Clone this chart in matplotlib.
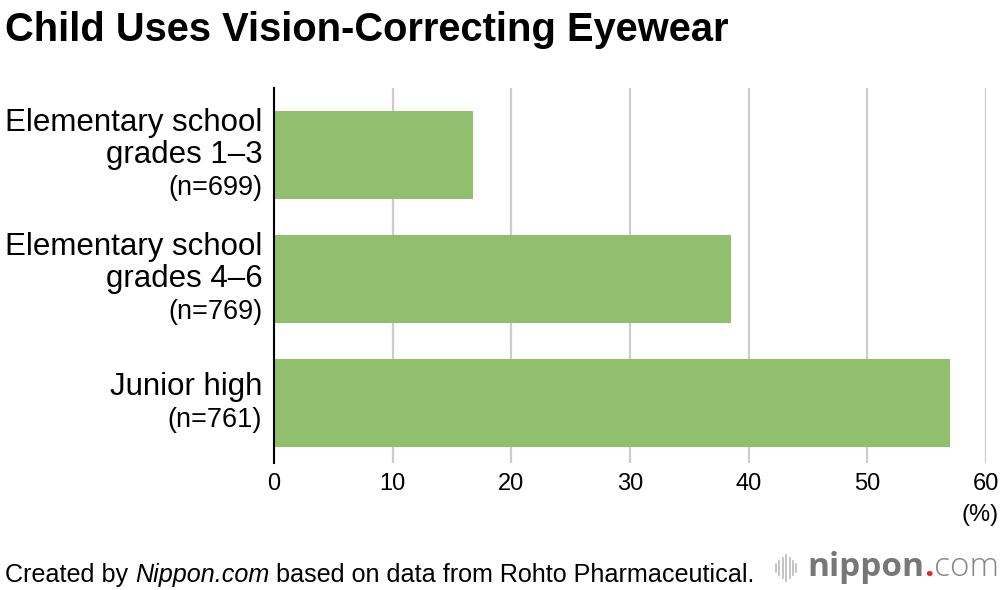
import matplotlib
matplotlib.use("Agg")
import matplotlib.pyplot as plt
from matplotlib.lines import Line2D

plt.rcParams['font.family'] = ['Liberation Sans', 'DejaVu Sans']

categories = ["Elementary school\ngrades 1–3", "Elementary school\ngrades 4–6", "Junior high"]
sample_sizes = ["(n=699)", "(n=769)", "(n=761)"]
values = [16.8, 38.5, 57.0]
x_ticks = [0, 10, 20, 30, 40, 50, 60]

title = "Child Uses Vision-Correcting Eyewear"
bar_color = "#90bf6e"

fig = plt.figure(figsize=(10, 5.9), dpi=100)
ax = fig.add_axes([0.274, 0.2153, 0.712, 0.6355])

ypos = list(range(len(categories)))
ax.barh(ypos, values, height=0.71, color=bar_color, zorder=3)

ax.set_xlim(0, 60)
ax.set_ylim(2.48, -0.54)
ax.set_xticks(x_ticks)
ax.set_xticklabels([str(t) for t in x_ticks], fontsize=17)
ax.tick_params(axis='x', length=0, pad=7)
ax.set_yticks([])
ax.grid(axis='x', color='#cccccc', linewidth=1.6, zorder=0)
for s in ['top', 'right', 'bottom']:
    ax.spines[s].set_visible(False)
ax.spines['left'].set_linewidth(1.5)
ax.spines['left'].set_color('black')
ax.spines['left'].set_zorder(4)

# Category labels
for y, cat, n in zip(ypos, categories, sample_sizes):
    lines = cat.split("\n")
    nl = len(lines) + 1
    line_h = 0.262  # in data units
    top = y - (nl - 1) * line_h / 2
    for i, ln in enumerate(lines):
        ax.text(-1.0, top + i * line_h, ln, ha='right', va='center', fontsize=22.5,
                transform=ax.transData, clip_on=False)
    ax.text(-1.0, top + len(lines) * line_h, n, ha='right', va='center', fontsize=19.5,
            transform=ax.transData, clip_on=False)

fig.text(0.999, 1 - 515 / 590, "(%)", ha='right', va='center', fontsize=17)

fig.text(0.005, 1 - 30 / 590, title, ha='left', va='center', fontsize=28.7, fontweight='bold')

# Footer
fy = 1 - 575 / 590
fparts = [("Created by ", 'normal'), ("Nippon.com", 'italic'),
          (" based on data from Rohto Pharmaceutical.", 'normal')]
fig.canvas.draw()
xcur = 0.005
for txt, st in fparts:
    t = fig.text(xcur, fy, txt, ha='left', va='center', fontsize=18.1, style=st)
    xcur = t.get_window_extent(renderer=fig.canvas.get_renderer()).x1 / 1000

# Logo
bars_h = [8, 14, 20, 26, 20, 14, 8]
for i, h in enumerate(bars_h):
    x = (776 + i * 3.4) / 1000
    yc = 1 - 568 / 590
    fig.add_artist(Line2D([x, x], [yc - h / 2 / 590, yc + h / 2 / 590], color='#bbbbbb', linewidth=1.2))
t1 = fig.text(0.807, 1 - 567 / 590, "nippon", ha='left', va='center', fontsize=24,
              fontweight='bold', color='#777777', family='Open Sans')
fig.canvas.draw()
bb = t1.get_window_extent()
t2 = fig.text(bb.x1 / 1000, 1 - 567 / 590, ".", ha='left', va='center', fontsize=24,
              color='#e8262a', family='Open Sans', fontweight='bold')
bb2 = t2.get_window_extent()
fig.text(bb2.x1 / 1000, 1 - 567 / 590, "com", ha='left', va='center', fontsize=24,
         color='#888888', family='Open Sans', fontweight='light')

fig.savefig("out.png", dpi=100)
